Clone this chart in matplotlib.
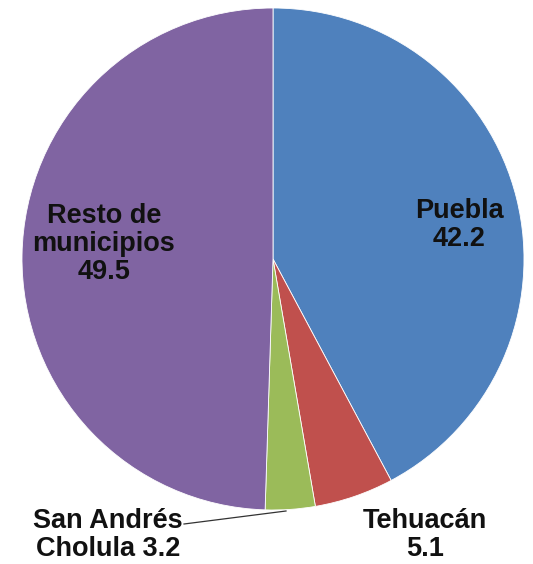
import matplotlib
matplotlib.use("Agg")
import matplotlib.pyplot as plt
import numpy as np

# Data
names = ["Puebla", "Tehuacán", "San Andrés\nCholula", "Resto de\nmunicipios"]
values = [42.2, 5.1, 3.2, 49.5]
colors = ["#4F81BD", "#C0504D", "#9BBB59", "#8064A2"]

plt.rcParams['font.family'] = ['Liberation Sans', 'DejaVu Sans']

fig = plt.figure(figsize=(5.33, 5.64), dpi=100)
ax = fig.add_axes([0, 0, 1, 1])

cx, cy, r = 273, 305, 251
wedges, _ = ax.pie(values, colors=colors, startangle=90, counterclock=False,
                   center=(cx, cy), radius=r,
                   wedgeprops=dict(edgecolor='white', linewidth=0.6))
ax.set_xlim(0, 533)
ax.set_ylim(0, 564)
ax.set_aspect('equal')
ax.axis('off')

fs = 19.5
kw = dict(fontsize=fs, fontweight='bold', color='#111111', ha='center', va='center',
          linespacing=1.11)
ax.text(459, 564 - 225, f"{names[0]}\n{values[0]}", **kw)
ax.text(104, 564 - 244, f"{names[3]}\n{values[3]}", **kw)
ax.text(425, 564 - 535, f"{names[1]}\n{values[1]}", **kw)
ax.text(108, 564 - 535, f"{names[2]} {values[2]}", **kw)

# leader line for small slice
ax.plot([184, 286], [564 - 524, 564 - 511], color='#333333', lw=0.9)

fig.savefig("out.png", dpi=100)
